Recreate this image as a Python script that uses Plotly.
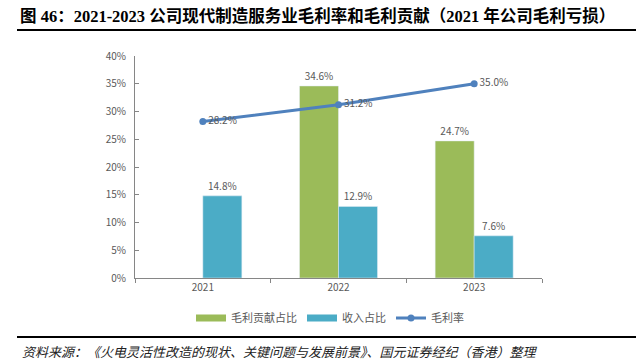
import plotly.graph_objects as go

years = ["2021", "2022", "2023"]
gp_contrib = [None, 0.346, 0.247]
rev_share = [0.148, 0.129, 0.076]
gp_margin = [0.282, 0.312, 0.350]
y_ticks = [0, 0.05, 0.10, 0.15, 0.20, 0.25, 0.30, 0.35, 0.40]
y_tick_text = ["0%", "5%", "10%", "15%", "20%", "25%", "30%", "35%", "40%"]

GREEN = "#9BBB59"
BLUE = "#4BACC6"
LINE = "#4F81BD"
GRAY = "#595959"
FONT = "Microsoft YaHei, Noto Sans CJK SC, DejaVu Sans, sans-serif"

L, R, T, B = 135, 542, 56, 278
W, H = 636, 363
pw, ph = R - L, B - T

def px(x):
    return (x - L) / pw

def py(y):
    return (B - y) / ph

fig = go.Figure()
fig.add_trace(go.Bar(
    x=years, y=gp_contrib, name="毛利贡献占比", marker_color=GREEN, showlegend=False,
    text=[None if v is None else f"{v*100:.1f}%" for v in gp_contrib],
    textposition="outside", cliponaxis=False,
    textfont=dict(size=10, color=GRAY, family=FONT),
))
fig.add_trace(go.Bar(
    x=years, y=rev_share, name="收入占比", marker_color=BLUE, showlegend=False,
    text=[f"{v*100:.1f}%" for v in rev_share],
    textposition="outside", cliponaxis=False,
    textfont=dict(size=10, color=GRAY, family=FONT),
))
fig.add_trace(go.Scatter(
    x=years, y=gp_margin, name="毛利率", mode="lines+markers+text", showlegend=False,
    line=dict(color=LINE, width=3), marker=dict(size=7, color=LINE),
    text=[f"{v*100:.1f}%" for v in gp_margin],
    textposition="middle right",
    textfont=dict(size=10, color=GRAY, family=FONT),
    cliponaxis=False,
))
# legend entries
fig.add_trace(go.Scatter(x=[None], y=[None], name="毛利贡献占比", mode="lines",
                         line=dict(color=GREEN, width=7)))
fig.add_trace(go.Scatter(x=[None], y=[None], name="收入占比", mode="lines",
                         line=dict(color=BLUE, width=7)))
fig.add_trace(go.Scatter(x=[None], y=[None], name="毛利率", mode="lines+markers",
                         line=dict(color=LINE, width=3), marker=dict(size=7, color=LINE)))

fig.update_layout(
    width=W, height=H,
    margin=dict(l=L, r=W - R, t=T, b=H - B, pad=0, autoexpand=False),
    paper_bgcolor="white", plot_bgcolor="white",
    barmode="group", bargap=0.425, bargroupgap=0,
    font=dict(family=FONT, size=10, color=GRAY),
    showlegend=True,
    legend=dict(orientation="h", x=px(330), xanchor="center", y=py(318), yanchor="middle",
                font=dict(size=11, color=GRAY, family=FONT), traceorder="normal",
                itemwidth=30, tracegroupgap=0),
    xaxis=dict(showline=True, linecolor="#868686", linewidth=1, ticks="outside",
               tickson="boundaries", ticklen=4, tickcolor="#868686", showgrid=False,
               tickfont=dict(size=10, color=GRAY)),
    yaxis=dict(range=[0, 0.4], tickvals=y_ticks, ticktext=y_tick_text, showgrid=False,
               showline=True, linecolor="#868686", linewidth=1, ticks="inside",
               ticklen=4, tickcolor="#868686", zeroline=False,
               tickfont=dict(size=10, color=GRAY), ticklabelstandoff=6),
)

fig.add_annotation(
    text="<b>图 46：2021-2023 公司现代制造服务业毛利率和毛利贡献（2021 年公司毛利亏损）</b>",
    xref="paper", yref="paper", x=px(18), y=py(16), xanchor="left", yanchor="middle",
    showarrow=False, font=dict(size=16.5, color="black", family="Liberation Serif, Noto Sans CJK SC, serif"),
)
fig.add_annotation(
    text="<i>资料来源：《火电灵活性改造的现状、关键问题与发展前景》、国元证券经纪（香港）整理</i>",
    xref="paper", yref="paper", x=px(20), y=py(351), xanchor="left", yanchor="middle",
    showarrow=False, font=dict(size=13, color="#222222", family="Noto Sans CJK SC, sans-serif"),
)
fig.add_shape(type="line", xref="paper", yref="paper", x0=px(17), x1=px(636), y0=py(30), y1=py(30),
              line=dict(color="black", width=2))
fig.add_shape(type="line", xref="paper", yref="paper", x0=px(17), x1=px(636), y0=py(337), y1=py(337),
              line=dict(color="black", width=2))

fig.write_html("out.html", config={"displayModeBar": False},
               post_script="document.body.style.margin='0';")
